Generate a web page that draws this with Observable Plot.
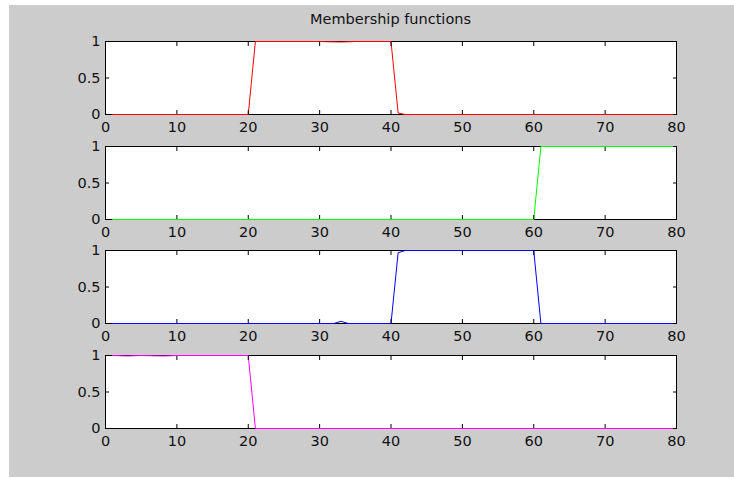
<!DOCTYPE html>
<html><head><meta charset="utf-8">
<script src="https://cdn.jsdelivr.net/npm/d3@7"></script>
<script src="https://cdn.jsdelivr.net/npm/@observablehq/plot@0.6"></script>
<style>
body{margin:0;background:#fff;}
#fig{position:relative;width:734px;height:478px;overflow:hidden;}
#bg{position:absolute;left:9px;top:5px;width:725px;height:472px;background:#cccccc;}
#title{position:absolute;left:105px;width:571px;top:11px;text-align:center;font:14.5px "DejaVu Sans",sans-serif;color:#111;}
.panel{position:absolute;left:0;}
</style></head><body>
<div id="fig"><div id="bg"></div><div id="title">Membership functions</div></div>
<script>
// Data (breakpoints of each membership function)
const redX = [1, 20, 21, 30, 31, 33, 35, 40, 41, 42, 80];
const redY = [0, 0, 1, 1, 0.997, 0.993, 1, 1, 0.02, 0, 0];
const greenX = [1, 60, 61, 80];
const greenY = [0, 0, 1, 1];
const blueX = [1, 32, 33, 34, 40, 41, 42, 60, 61, 80];
const blueY = [0, 0, 0.03, 0, 0, 0.97, 1, 1, 0, 0];
const magentaX = [1, 3, 5, 8, 10, 20, 21, 80];
const magentaY = [1, 0.993, 1, 0.993, 1, 1, 0, 0];
const seriesColors = ["#ff0000", "#00ff00", "#0000ff", "#ff00ff"];
const xTicks = [0, 10, 20, 30, 40, 50, 60, 70, 80];
const yTicks = [0, 0.5, 1];
const yTickLabels = ["0", "0.5", "1"];

const series = [[redX, redY], [greenX, greenY], [blueX, blueY], [magentaX, magentaY]];
const panelTops = [41, 146, 250, 355];
const mt = 10, mb = 28, ph = 73;
const font = '"DejaVu Sans", sans-serif';
const fs = 14.5;
const fig = document.getElementById("fig");

series.forEach(([xs, ys], i) => {
  const data = xs.map((x, j) => ({x, y: ys[j]}));
  const p = Plot.plot({
    width: 734, height: ph + mt + mb,
    marginTop: mt, marginBottom: mb, marginLeft: 105, marginRight: 58,
    style: {background: "transparent", fontFamily: font, fontSize: fs + "px", color: "#111", overflow: "visible"},
    x: {domain: [0, 80]},
    y: {domain: [0, 1]},
    marks: [
      Plot.frame({fill: "white"}),
      Plot.frame({stroke: "black"}),
      Plot.line(data, {x: "x", y: "y", stroke: seriesColors[i], strokeWidth: 1}),
      Plot.axisX(xTicks, {anchor: "bottom", tickSize: 0, tickPadding: 7, label: null, fill: "#111", fontSize: fs}),
      Plot.axisX(xTicks, {anchor: "bottom", tickSize: -4, tickFormat: () => "", label: null, stroke: "black"}),
      Plot.axisX(xTicks, {anchor: "top", tickSize: -4, tickFormat: () => "", label: null, stroke: "black"}),
      Plot.axisY(yTicks, {anchor: "left", tickSize: 0, tickPadding: 5, label: null, fill: "#111", fontSize: fs, tickFormat: (d, k) => yTickLabels[k]}),
      Plot.axisY(yTicks, {anchor: "left", tickSize: -4, tickFormat: () => "", label: null, stroke: "black"}),
      Plot.axisY(yTicks, {anchor: "right", tickSize: -4, tickFormat: () => "", label: null, stroke: "black"})
    ]
  });
  p.classList.add("panel");
  p.style.top = (panelTops[i] - mt) + "px";
  p.style.position = "absolute";
  fig.appendChild(p);
});
</script>
</body></html>
